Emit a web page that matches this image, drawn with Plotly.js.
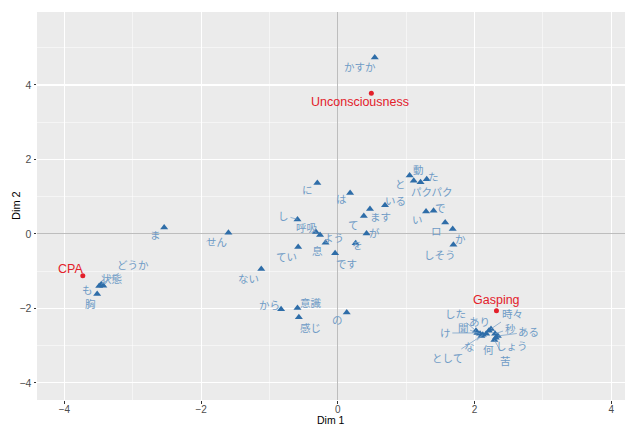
<!DOCTYPE html>
<html>
<head>
<meta charset="utf-8">
<script src="https://cdn.plot.ly/plotly-3.0.1.min.js"></script>
<style>html,body{margin:0;padding:0;background:#fff;}#chart{width:625px;height:425px;}</style>
</head>
<body>
<div id="chart"></div>
<script>
// Row points (red)
const rowLabels = ["CPA", "Unconsciousness", "Gasping"];
const rowDim1 = [-3.73, 0.49, 2.32];
const rowDim2 = [-1.12, 3.78, -2.06];

// Column points (blue triangles)
const colLabels = ["ま","せん","ない","から","意識","感じ","の","に","は","し","呼吸","よう","息","です","てい","て","ます","いる","が","を","動","と","た","パクパク","い","で","ロ","か","しそう","かすか","どうか","状態","も","胸","した","け","聞","な","として","何","あり","時々","秒","ある","しょう","苦"];
const colDim1 = [-2.54,-1.60,-1.12,-0.83,-0.59,-0.57,0.13,-0.30,0.18,-0.59,-0.32,-0.26,-0.18,-0.04,-0.58,0.38,0.47,0.69,0.42,0.26,1.05,1.11,1.30,1.21,1.29,1.40,1.57,1.68,1.69,0.54,-3.46,-3.43,-3.49,-3.52,2.02,2.04,2.08,2.12,2.10,2.17,2.21,2.24,2.30,2.34,2.31,2.29];
const colDim2 = [0.17,0.03,-0.94,-2.02,-1.99,-2.24,-2.11,1.37,1.10,0.39,0.05,-0.03,-0.24,-0.52,-0.35,0.48,0.67,0.77,0.01,-0.25,1.57,1.43,1.47,1.39,0.60,0.62,0.31,0.13,-0.29,4.74,-1.35,-1.39,-1.40,-1.61,-2.60,-2.66,-2.68,-2.71,-2.74,-2.68,-2.60,-2.55,-2.68,-2.74,-2.79,-2.85];

// Label placement (pixel offsets, as a repel layout would give) and segment flags
const colOffX = [-9,-12,-13,-12,13,12,-9,-10,-9,-14,-9,13,-8,11,-12,-10,11,10,8,2,9,-13,7,11,-9,7,-9,8,-13,-15,32,9,-12,-7,-20,-32,-17,-13,-34,2,-9,22,15,31,16,11];
const colOffY = [7,9,10,-5,-6,10,7,7,6,-4,-5,2,8,10,10,8,8,-5,-1,1,-6,3,-3,9,8,-3,8,9,10,9,-20,-7,3,10,-17,0,-6,12,22,16,-9,-15,-5,-4,8,20];
const colSeg = ["し","どうか","した","け","聞","な","として","あり","時々","秒","ある","しょう","苦"];
const rowOffX = [-12,-11,0];
const rowOffY = [-7,9,-11];

const blue = "#2E6DA8";
const blueText = "#6F9BC6";
const red = "#E3202A";
const jpFont = "Noto Sans CJK JP, Noto Sans, sans-serif";
const latin = "Liberation Sans, Arial, sans-serif";

const traces = [
  {x: colDim1, y: colDim2, type: "scatter", mode: "markers",
   marker: {symbol: "triangle-up", size: 7, color: blue}, hoverinfo: "skip"},
  {x: rowDim1, y: rowDim2, type: "scatter", mode: "markers",
   marker: {symbol: "circle", size: 5, color: red}, hoverinfo: "skip"}
];

const annotations = [];
colLabels.forEach((t, i) => {
  const seg = colSeg.includes(t);
  const a = {x: colDim1[i], y: colDim2[i], xref: "x", yref: "y", text: t,
    font: {family: jpFont, size: 10.5, color: blueText}};
  if (seg) {
    Object.assign(a, {showarrow: true, ax: colOffX[i], ay: colOffY[i], arrowhead: 0,
      arrowwidth: 0.7, arrowcolor: blueText, standoff: 0, startstandoff: 0});
  } else {
    Object.assign(a, {showarrow: false, xshift: colOffX[i], yshift: -colOffY[i]});
  }
  annotations.push(a);
});
rowLabels.forEach((t, i) => {
  annotations.push({x: rowDim1[i], y: rowDim2[i], xref: "x", yref: "y", text: t,
    showarrow: false, xshift: rowOffX[i], yshift: -rowOffY[i],
    font: {family: latin, size: 12.5, color: red}});
});
// Axis titles
annotations.push({xref: "paper", yref: "paper", x: 0.5, y: -0.0505, text: "Dim 1",
  showarrow: false, xanchor: "center", yanchor: "middle",
  font: {family: latin, size: 10.5, color: "#000"}});
annotations.push({xref: "paper", yref: "paper", x: -0.0357, y: 0.5, text: "Dim 2",
  showarrow: false, xanchor: "center", yanchor: "middle", textangle: -90,
  font: {family: latin, size: 11, color: "#000"}});

const axisCommon = {
  showgrid: true, gridcolor: "#FFFFFF", gridwidth: 1.1,
  minor: {dtick: 1, showgrid: true, gridcolor: "#FFFFFF", gridwidth: 0.5},
  zeroline: true, zerolinecolor: "#BDBDBD", zerolinewidth: 1,
  ticks: "outside", ticklen: 2.5, tickcolor: "#333333", tickwidth: 1,
  tickfont: {family: latin, size: 10.5, color: "#4D4D4D"},
  showline: false, dtick: 2, automargin: false
};

const layout = {
  width: 625, height: 425,
  margin: {l: 37, r: 0, t: 12, b: 25, pad: 0},
  paper_bgcolor: "#FFFFFF", plot_bgcolor: "#EBEBEB",
  showlegend: false,
  xaxis: Object.assign({}, axisCommon, {range: [-4.40, 4.20], tick0: 0, ticklabelstandoff: -3,
    tickfont: {family: latin, size: 10, color: "#4D4D4D"}}),
  yaxis: Object.assign({}, axisCommon, {range: [-4.46, 5.96], tick0: 0}),
  annotations: annotations
};

Plotly.newPlot("chart", traces, layout, {staticPlot: true, displayModeBar: false});
</script>
</body>
</html>
